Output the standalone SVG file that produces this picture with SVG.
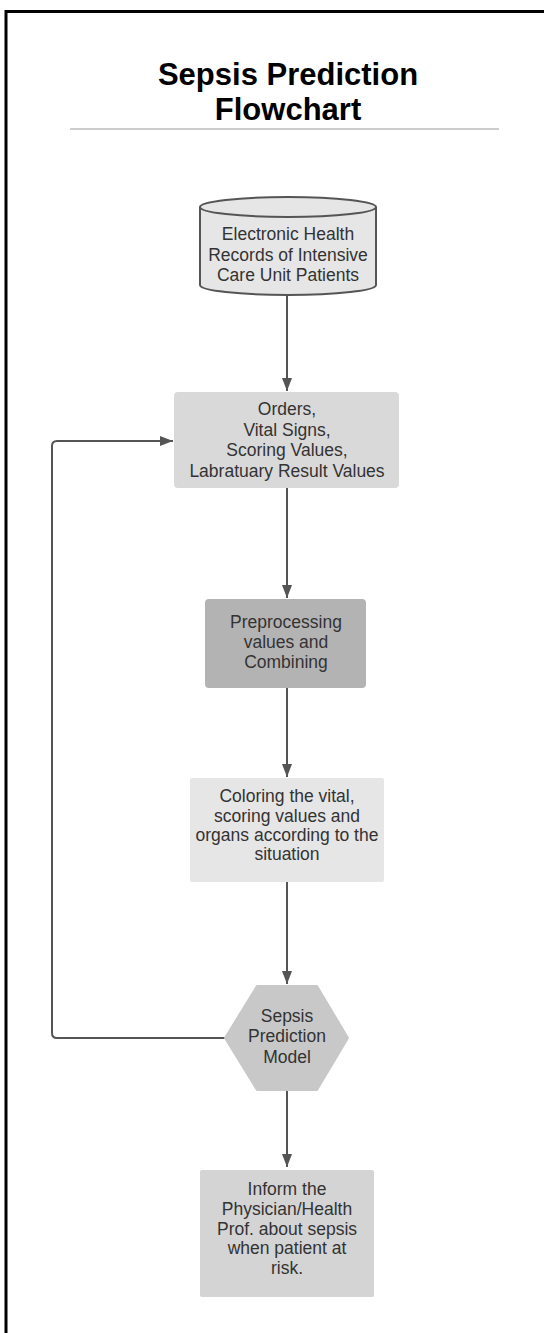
<svg xmlns="http://www.w3.org/2000/svg" width="544" height="1333" viewBox="0 0 544 1333">
<defs>
<style>
.t{font-family:"Liberation Sans",Arial,sans-serif;font-size:17.5px;fill:#333;text-anchor:middle}
.title{font-family:"Liberation Sans",Arial,sans-serif;font-size:31px;font-weight:bold;fill:#000;text-anchor:middle}
.c{fill:none;stroke:#555;stroke-width:2}
</style>
<marker id="ah" markerWidth="13" markerHeight="10" refX="13" refY="5" orient="auto" markerUnits="userSpaceOnUse">
<path d="M0,0 L13,5 L0,10 Z" fill="#555"/>
</marker>
</defs>
<rect x="0" y="0" width="544" height="1333" fill="#fff"/>
<path d="M6,1333 V11.5 H544" fill="none" stroke="#000" stroke-width="3"/>
<g id="title">
<text class="title" x="288" y="85">Sepsis Prediction</text>
<text class="title" x="288" y="120">Flowchart</text>
<line x1="70" y1="129" x2="499" y2="129" stroke="#bbb" stroke-width="1.5"/>
</g>
<g id="connectors">
<line class="c" x1="287" y1="296" x2="287" y2="391" marker-end="url(#ah)"/>
<line class="c" x1="287" y1="488" x2="287" y2="598" marker-end="url(#ah)"/>
<line class="c" x1="287" y1="688" x2="287" y2="777" marker-end="url(#ah)"/>
<line class="c" x1="287" y1="882" x2="287" y2="984" marker-end="url(#ah)"/>
<line class="c" x1="287" y1="1090" x2="287" y2="1167" marker-end="url(#ah)"/>
<path class="c" d="M225,1038 H57 Q52,1038 52,1033 V446 Q52,441 57,441 H173" marker-end="url(#ah)"/>
</g>
<g id="ehr">
<path d="M200,207 V285 A88,10 0 0 0 376,285 V207" fill="#e6e6e6" stroke="#555" stroke-width="2"/>
<ellipse cx="288" cy="207" rx="88" ry="10" fill="#e6e6e6" stroke="#555" stroke-width="2"/>
<text class="t" x="288" y="240">Electronic Health</text>
<text class="t" x="288" y="261">Records of Intensive</text>
<text class="t" x="288" y="281">Care Unit Patients</text>
</g>
<g id="orders">
<rect x="174" y="392" width="225" height="96" rx="4" fill="#d9d9d9"/>
<text class="t" x="287" y="415">Orders,</text>
<text class="t" x="287" y="435.5">Vital Signs,</text>
<text class="t" x="287" y="456">Scoring Values,</text>
<text class="t" x="287" y="476.5">Labratuary Result Values</text>
</g>
<g id="preprocessing">
<rect x="205" y="599" width="161" height="89" rx="4" fill="#b3b3b3"/>
<text class="t" x="286" y="628">Preprocessing</text>
<text class="t" x="286" y="648">values and</text>
<text class="t" x="286" y="668">Combining</text>
</g>
<g id="coloring">
<rect x="190" y="778" width="194" height="104" rx="2" fill="#e6e6e6"/>
<text class="t" x="287" y="802">Coloring the vital,</text>
<text class="t" x="287" y="822">scoring values and</text>
<text class="t" x="287" y="841">organs according to the</text>
<text class="t" x="287" y="860">situation</text>
</g>
<g id="model">
<path d="M225,1038 L257,986 L317,986 L348,1038 L317,1090 L257,1090 Z" fill="#c8c8c8" stroke="#c8c8c8" stroke-width="2" stroke-linejoin="round"/>
<text class="t" x="287" y="1021.5">Sepsis</text>
<text class="t" x="287" y="1042">Prediction</text>
<text class="t" x="287" y="1062.5">Model</text>
</g>
<g id="inform">
<rect x="200" y="1170" width="174" height="127" rx="2" fill="#d4d4d4"/>
<text class="t" x="287" y="1195">Inform the</text>
<text class="t" x="287" y="1215">Physician/Health</text>
<text class="t" x="287" y="1234.5">Prof. about sepsis</text>
<text class="t" x="287" y="1254">when patient at</text>
<text class="t" x="287" y="1273.5">risk.</text>
</g>
</svg>
